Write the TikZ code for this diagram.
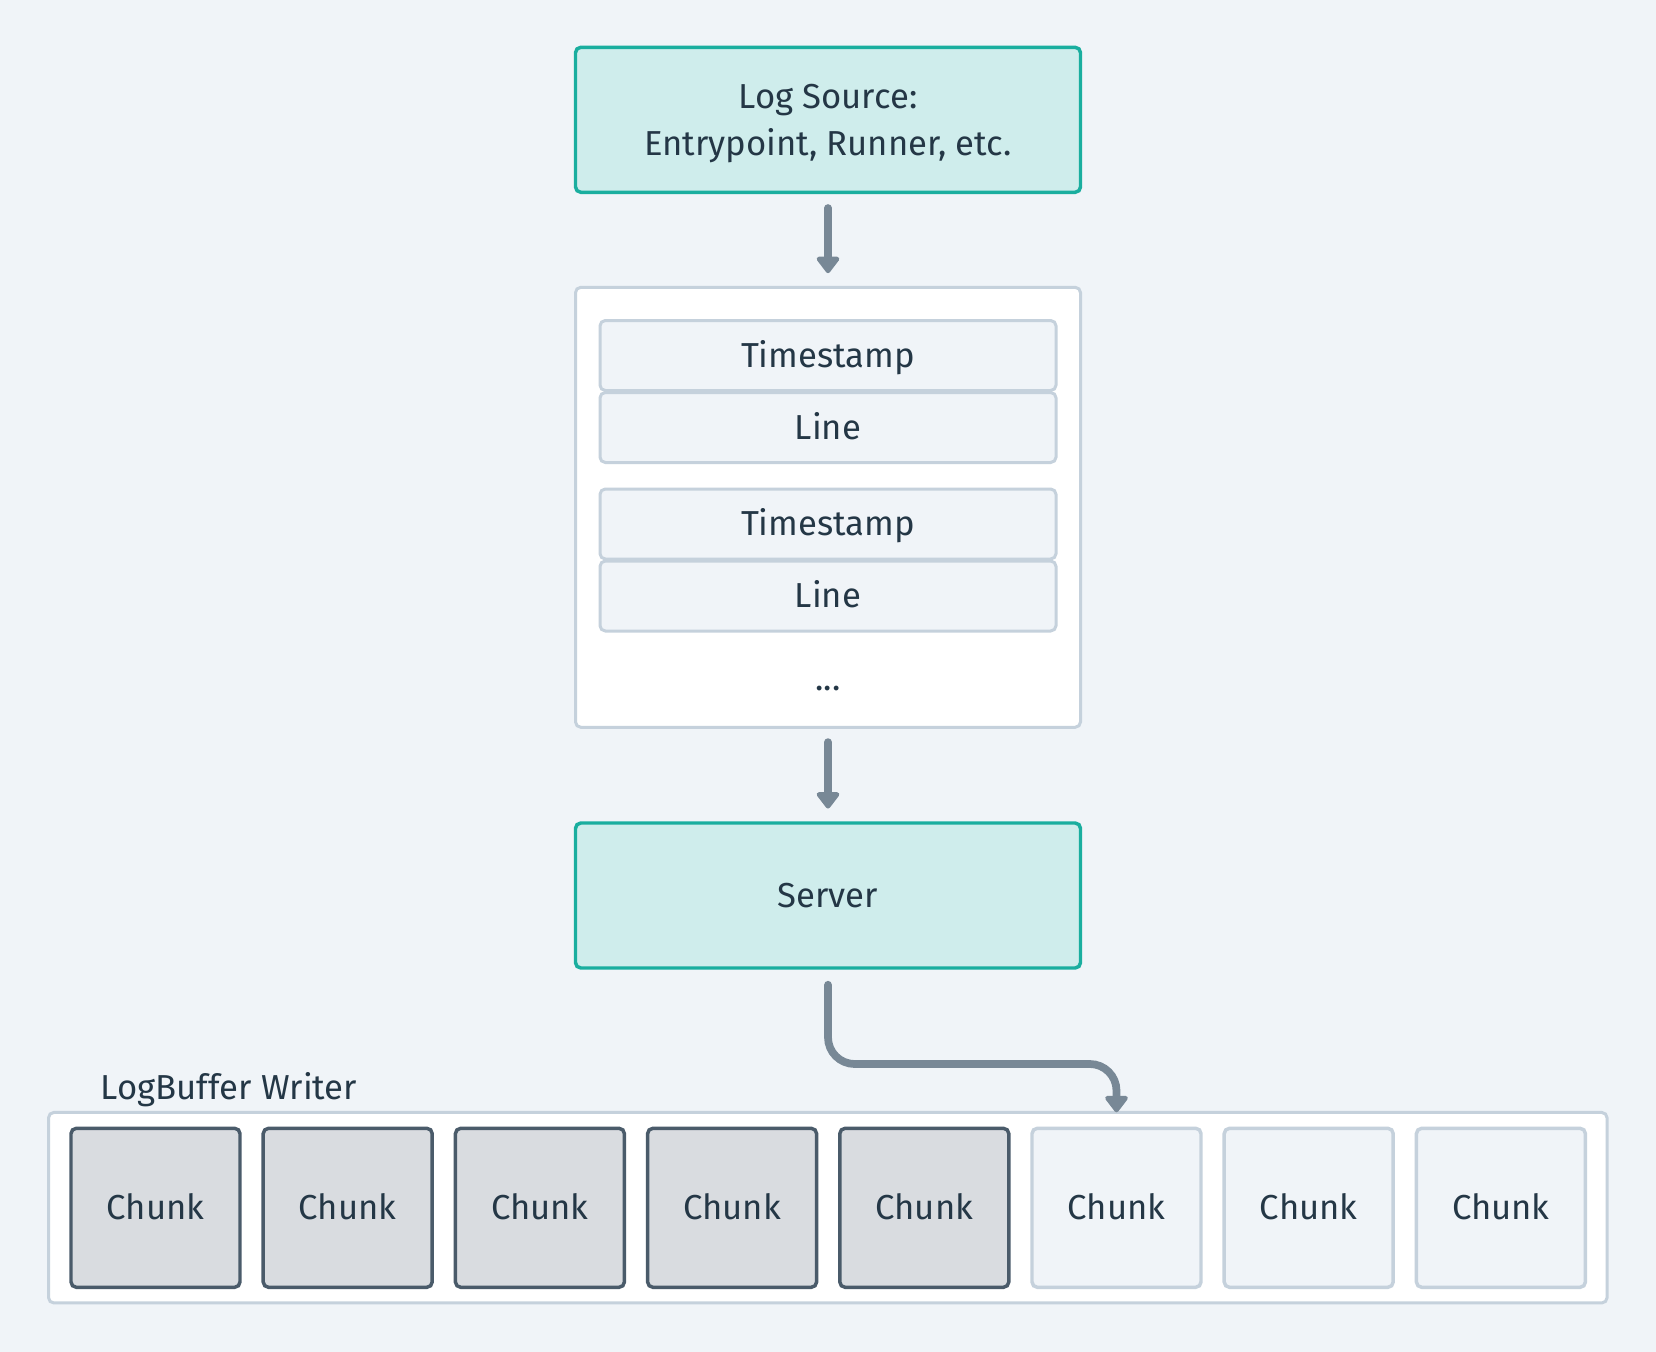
\documentclass[tikz,border=0pt]{standalone}
\usepackage{fontspec}
\setmainfont{Fira Sans}
\usetikzlibrary{arrows.meta,positioning}

\definecolor{bgcol}{RGB}{240,244,248}
\definecolor{tealfill}{RGB}{207,237,236}
\definecolor{tealline}{RGB}{26,174,159}
\definecolor{lightline}{RGB}{197,209,220}
\definecolor{chunkdark}{RGB}{217,220,224}
\definecolor{chunkline}{RGB}{74,91,106}
\definecolor{arrowcol}{RGB}{120,136,150}
\definecolor{txtcol}{RGB}{36,55,70}

\tikzset{every picture/.style={line width=0.75pt}}
\tikzset{
	capcentred/.style={text height=17.9pt, text depth=0pt},
	tealbox/.style={draw=tealline, fill=tealfill, line width=2.6pt, rounded corners=4pt,
		minimum width=378.75pt, minimum height=108.75pt, inner sep=0pt},
	lightbox/.style={draw=lightline, fill=white, line width=2.25pt, rounded corners=4pt, inner sep=0pt},
	rowbox/.style={draw=lightline, fill=bgcol, line width=2.25pt, rounded corners=4pt,
		minimum width=342pt, minimum height=52.5pt, inner sep=0pt, capcentred},
	chunkbox/.style={line width=2.6pt, rounded corners=4pt,
		minimum width=126.75pt, minimum height=119.25pt, inner sep=0pt, capcentred},
	flowarrow/.style={draw=arrowcol, line width=5.8pt, line cap=round,
		-{Triangle[width=19.5pt,length=13.5pt,round]}},
}

\begin{document}
\begin{tikzpicture}[x=0.75pt,y=0.75pt,yscale=-1,xscale=1,
	every node/.style={font=\fontsize{26}{35.25}\selectfont, text=txtcol}]
	% background, sets the page size
	\path[fill=bgcol, use as bounding box] (0,0) rectangle (1656,1352);

	% Log source
	\node[tealbox, text height=17.9pt, text depth=35.25pt] (src) at (828,119.8)
		{\begin{tabular}[t]{@{}c@{}}Log Source:\\Entrypoint, Runner, etc.\end{tabular}};

	% Entries
	\node[lightbox, minimum width=378.75pt, minimum height=330pt] (buf) at (828,507.3) {};
	\node[rowbox] (ts1) at (828,355.5) {Timestamp};
	\node[rowbox] (ln1) at (828,427.5) {Line};
	\node[rowbox] (ts2) at (828,524) {Timestamp};
	\node[rowbox] (ln2) at (828,596) {Line};
	% Text Node
	\node[anchor=base] (dots) at (828,690) {...};

	% Server
	\node[tealbox, capcentred] (srv) at (828,895.5) {Server};

	% LogBuffer writer
	\node[lightbox, minimum width=1168.9pt, minimum height=142.9pt] (wr) at (827.8,1207.7) {};
	% Text Node
	\node[anchor=base west] (wrlabel) at (96,1099) {LogBuffer Writer};
	\foreach \i in {1,...,8}{
		\ifnum\i<6 \def\cf{chunkdark}\def\cd{chunkline}\else\def\cf{bgcol}\def\cd{lightline}\fi
		\node[chunkbox, fill=\cf, draw=\cd] (c\i) at ({155.5+192.2*(\i-1)},1207.8) {Chunk};
	}

	% Arrows
	\coordinate (bend) at (828,1064);
	\draw[flowarrow, shorten <=10.5pt, shorten >=9.5pt] (src) -- (buf);
	\draw[flowarrow, shorten <=10pt, shorten >=9.5pt] (buf) -- (srv);
	\draw[flowarrow, shorten <=11.25pt, shorten >=-1pt, rounded corners=20pt]
		(srv) -- (srv |- bend) -- (c6 |- bend) -- (c6 |- wr.north);

\end{tikzpicture}
\end{document}
